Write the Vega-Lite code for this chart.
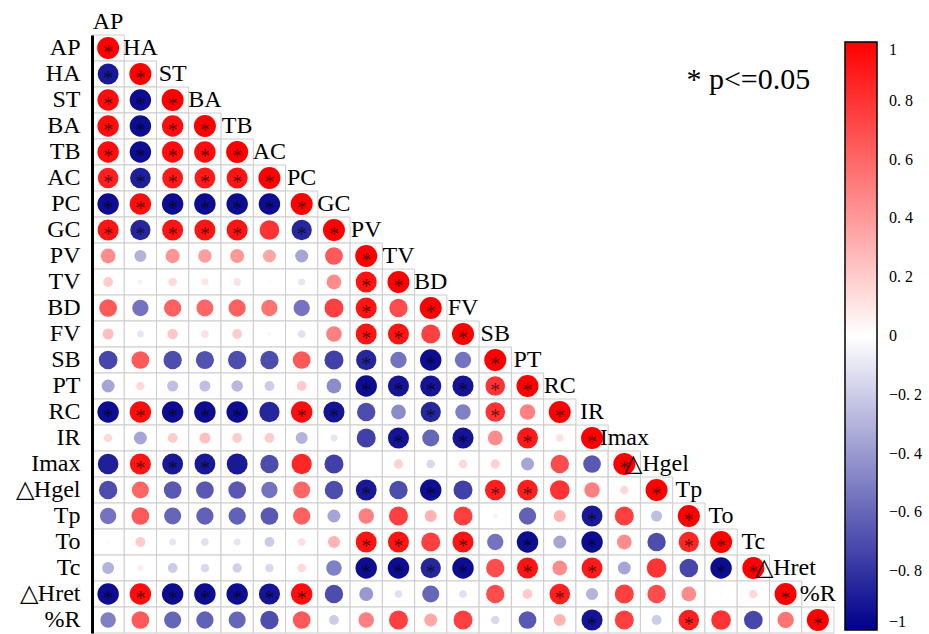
{
"$schema": "https://vega.github.io/schema/vega-lite/v6.json",
"width": 742, "height": 598,
"autosize": {"type": "none"},
"padding": {"left": 92, "top": 35, "right": 95, "bottom": 1},
"background": "white",
"config": {"view": {"stroke": null}, "font": "Liberation Serif", "legend": {"labelFont": "Liberation Serif", "labelFontSize": 16, "labelColor": "black"}},
"datasets": {
"names": [{"n":"AP"},{"n":"HA"},{"n":"ST"},{"n":"BA"},{"n":"TB"},{"n":"AC"},{"n":"PC"},{"n":"GC"},{"n":"PV"},{"n":"TV"},{"n":"BD"},{"n":"FV"},{"n":"SB"},{"n":"PT"},{"n":"RC"},{"n":"IR"},{"n":"Imax"},{"n":"△Hgel"},{"n":"Tp"},{"n":"To"},{"n":"Tc"},{"n":"△Hret"},{"n":"%R"}],
"note": [{"t":"* p<=0.05","x":"Tc","y":"HA"}],
"cells": [
{"a":"AP","b":"AP","r":1,"s":1},
{"a":"HA","b":"AP","r":-0.9,"s":1},{"a":"HA","b":"HA","r":1,"s":1},
{"a":"ST","b":"AP","r":0.95,"s":1},{"a":"ST","b":"HA","r":-0.95,"s":1},{"a":"ST","b":"ST","r":1,"s":1},
{"a":"BA","b":"AP","r":0.95,"s":1},{"a":"BA","b":"HA","r":-0.95,"s":1},{"a":"BA","b":"ST","r":0.95,"s":1},{"a":"BA","b":"BA","r":1,"s":1},
{"a":"TB","b":"AP","r":0.95,"s":1},{"a":"TB","b":"HA","r":-0.95,"s":1},{"a":"TB","b":"ST","r":0.95,"s":1},{"a":"TB","b":"BA","r":0.95,"s":1},{"a":"TB","b":"TB","r":1,"s":1},
{"a":"AC","b":"AP","r":0.88,"s":1},{"a":"AC","b":"HA","r":-0.88,"s":1},{"a":"AC","b":"ST","r":0.9,"s":1},{"a":"AC","b":"BA","r":0.9,"s":1},{"a":"AC","b":"TB","r":0.92,"s":1},{"a":"AC","b":"AC","r":1,"s":1},
{"a":"PC","b":"AP","r":-0.95,"s":1},{"a":"PC","b":"HA","r":0.95,"s":1},{"a":"PC","b":"ST","r":-0.95,"s":1},{"a":"PC","b":"BA","r":-0.95,"s":1},{"a":"PC","b":"TB","r":-0.95,"s":1},{"a":"PC","b":"AC","r":-0.95,"s":1},{"a":"PC","b":"PC","r":1,"s":1},
{"a":"GC","b":"AP","r":0.92,"s":1},{"a":"GC","b":"HA","r":-0.85,"s":1},{"a":"GC","b":"ST","r":0.92,"s":1},{"a":"GC","b":"BA","r":0.92,"s":1},{"a":"GC","b":"TB","r":0.92,"s":1},{"a":"GC","b":"AC","r":0.8,"s":0},{"a":"GC","b":"PC","r":-0.85,"s":1},{"a":"GC","b":"GC","r":1,"s":1},
{"a":"PV","b":"AP","r":0.45,"s":0},{"a":"PV","b":"HA","r":-0.3,"s":0},{"a":"PV","b":"ST","r":0.42,"s":0},{"a":"PV","b":"BA","r":0.38,"s":0},{"a":"PV","b":"TB","r":0.4,"s":0},{"a":"PV","b":"AC","r":0.35,"s":0},{"a":"PV","b":"PC","r":-0.35,"s":0},{"a":"PV","b":"GC","r":0.65,"s":0},{"a":"PV","b":"PV","r":1,"s":1},
{"a":"TV","b":"AP","r":0.2,"s":0},{"a":"TV","b":"HA","r":-0.05,"s":0},{"a":"TV","b":"ST","r":0.15,"s":0},{"a":"TV","b":"BA","r":0.1,"s":0},{"a":"TV","b":"TB","r":0.12,"s":0},{"a":"TV","b":"AC","r":0.02,"s":0},{"a":"TV","b":"PC","r":-0.1,"s":0},{"a":"TV","b":"GC","r":0.45,"s":0},{"a":"TV","b":"PV","r":0.92,"s":1},{"a":"TV","b":"TV","r":1,"s":1},
{"a":"BD","b":"AP","r":0.65,"s":0},{"a":"BD","b":"HA","r":-0.55,"s":0},{"a":"BD","b":"ST","r":0.62,"s":0},{"a":"BD","b":"BA","r":0.6,"s":0},{"a":"BD","b":"TB","r":0.62,"s":0},{"a":"BD","b":"AC","r":0.55,"s":0},{"a":"BD","b":"PC","r":-0.55,"s":0},{"a":"BD","b":"GC","r":0.75,"s":0},{"a":"BD","b":"PV","r":0.92,"s":1},{"a":"BD","b":"TV","r":0.7,"s":0},{"a":"BD","b":"BD","r":1,"s":1},
{"a":"FV","b":"AP","r":0.25,"s":0},{"a":"FV","b":"HA","r":-0.1,"s":0},{"a":"FV","b":"ST","r":0.22,"s":0},{"a":"FV","b":"BA","r":0.12,"s":0},{"a":"FV","b":"TB","r":0.2,"s":0},{"a":"FV","b":"AC","r":0.03,"s":0},{"a":"FV","b":"PC","r":-0.12,"s":0},{"a":"FV","b":"GC","r":0.5,"s":0},{"a":"FV","b":"PV","r":0.92,"s":1},{"a":"FV","b":"TV","r":0.92,"s":1},{"a":"FV","b":"BD","r":0.75,"s":0},{"a":"FV","b":"FV","r":1,"s":1},
{"a":"SB","b":"AP","r":-0.72,"s":0},{"a":"SB","b":"HA","r":0.65,"s":0},{"a":"SB","b":"ST","r":-0.7,"s":0},{"a":"SB","b":"BA","r":-0.68,"s":0},{"a":"SB","b":"TB","r":-0.7,"s":0},{"a":"SB","b":"AC","r":-0.7,"s":0},{"a":"SB","b":"PC","r":0.65,"s":0},{"a":"SB","b":"GC","r":-0.75,"s":0},{"a":"SB","b":"PV","r":-0.85,"s":1},{"a":"SB","b":"TV","r":-0.55,"s":0},{"a":"SB","b":"BD","r":-0.95,"s":1},{"a":"SB","b":"FV","r":-0.55,"s":0},{"a":"SB","b":"SB","r":1,"s":1},
{"a":"PT","b":"AP","r":-0.35,"s":0},{"a":"PT","b":"HA","r":0.15,"s":0},{"a":"PT","b":"ST","r":-0.25,"s":0},{"a":"PT","b":"BA","r":-0.25,"s":0},{"a":"PT","b":"TB","r":-0.28,"s":0},{"a":"PT","b":"AC","r":-0.2,"s":0},{"a":"PT","b":"PC","r":0.2,"s":0},{"a":"PT","b":"GC","r":-0.45,"s":0},{"a":"PT","b":"PV","r":-0.95,"s":1},{"a":"PT","b":"TV","r":-0.92,"s":1},{"a":"PT","b":"BD","r":-0.92,"s":1},{"a":"PT","b":"FV","r":-0.92,"s":1},{"a":"PT","b":"SB","r":0.8,"s":1},{"a":"PT","b":"PT","r":1,"s":1},
{"a":"RC","b":"AP","r":-0.95,"s":1},{"a":"RC","b":"HA","r":0.95,"s":1},{"a":"RC","b":"ST","r":-0.95,"s":1},{"a":"RC","b":"BA","r":-0.95,"s":1},{"a":"RC","b":"TB","r":-0.95,"s":1},{"a":"RC","b":"AC","r":-0.85,"s":0},{"a":"RC","b":"PC","r":0.95,"s":1},{"a":"RC","b":"GC","r":-0.92,"s":1},{"a":"RC","b":"PV","r":-0.7,"s":0},{"a":"RC","b":"TV","r":-0.45,"s":0},{"a":"RC","b":"BD","r":-0.85,"s":1},{"a":"RC","b":"FV","r":-0.5,"s":0},{"a":"RC","b":"SB","r":0.8,"s":1},{"a":"RC","b":"PT","r":0.5,"s":0},{"a":"RC","b":"RC","r":1,"s":1},
{"a":"IR","b":"AP","r":0.15,"s":0},{"a":"IR","b":"HA","r":-0.35,"s":0},{"a":"IR","b":"ST","r":0.2,"s":0},{"a":"IR","b":"BA","r":0.25,"s":0},{"a":"IR","b":"TB","r":0.2,"s":0},{"a":"IR","b":"AC","r":0.2,"s":0},{"a":"IR","b":"PC","r":-0.3,"s":0},{"a":"IR","b":"GC","r":-0.1,"s":0},{"a":"IR","b":"PV","r":-0.75,"s":0},{"a":"IR","b":"TV","r":-0.92,"s":1},{"a":"IR","b":"BD","r":-0.6,"s":0},{"a":"IR","b":"FV","r":-0.92,"s":1},{"a":"IR","b":"SB","r":0.45,"s":0},{"a":"IR","b":"PT","r":0.9,"s":1},{"a":"IR","b":"RC","r":0.12,"s":0},{"a":"IR","b":"IR","r":1,"s":1},
{"a":"Imax","b":"AP","r":-0.88,"s":0},{"a":"Imax","b":"HA","r":0.92,"s":1},{"a":"Imax","b":"ST","r":-0.9,"s":1},{"a":"Imax","b":"BA","r":-0.9,"s":1},{"a":"Imax","b":"TB","r":-0.9,"s":0},{"a":"Imax","b":"AC","r":-0.7,"s":0},{"a":"Imax","b":"PC","r":0.85,"s":0},{"a":"Imax","b":"GC","r":-0.75,"s":0},{"a":"Imax","b":"PV","r":-0.02,"s":0},{"a":"Imax","b":"TV","r":0.18,"s":0},{"a":"Imax","b":"BD","r":-0.15,"s":0},{"a":"Imax","b":"FV","r":0.15,"s":0},{"a":"Imax","b":"SB","r":0.18,"s":0},{"a":"Imax","b":"PT","r":-0.35,"s":0},{"a":"Imax","b":"RC","r":0.7,"s":0},{"a":"Imax","b":"IR","r":-0.65,"s":0},{"a":"Imax","b":"Imax","r":1,"s":1},
{"a":"△Hgel","b":"AP","r":-0.7,"s":0},{"a":"△Hgel","b":"HA","r":0.6,"s":0},{"a":"△Hgel","b":"ST","r":-0.65,"s":0},{"a":"△Hgel","b":"BA","r":-0.65,"s":0},{"a":"△Hgel","b":"TB","r":-0.65,"s":0},{"a":"△Hgel","b":"AC","r":-0.55,"s":0},{"a":"△Hgel","b":"PC","r":0.6,"s":0},{"a":"△Hgel","b":"GC","r":-0.7,"s":0},{"a":"△Hgel","b":"PV","r":-0.9,"s":1},{"a":"△Hgel","b":"TV","r":-0.7,"s":0},{"a":"△Hgel","b":"BD","r":-0.95,"s":1},{"a":"△Hgel","b":"FV","r":-0.75,"s":0},{"a":"△Hgel","b":"SB","r":0.88,"s":1},{"a":"△Hgel","b":"PT","r":0.88,"s":1},{"a":"△Hgel","b":"RC","r":0.8,"s":0},{"a":"△Hgel","b":"IR","r":0.5,"s":0},{"a":"△Hgel","b":"Imax","r":0.15,"s":0},{"a":"△Hgel","b":"△Hgel","r":1,"s":1},
{"a":"Tp","b":"AP","r":-0.55,"s":0},{"a":"Tp","b":"HA","r":0.65,"s":0},{"a":"Tp","b":"ST","r":-0.6,"s":0},{"a":"Tp","b":"BA","r":-0.62,"s":0},{"a":"Tp","b":"TB","r":-0.62,"s":0},{"a":"Tp","b":"AC","r":-0.65,"s":0},{"a":"Tp","b":"PC","r":0.62,"s":0},{"a":"Tp","b":"GC","r":-0.35,"s":0},{"a":"Tp","b":"PV","r":0.5,"s":0},{"a":"Tp","b":"TV","r":0.75,"s":0},{"a":"Tp","b":"BD","r":0.3,"s":0},{"a":"Tp","b":"FV","r":0.75,"s":0},{"a":"Tp","b":"SB","r":-0.05,"s":0},{"a":"Tp","b":"PT","r":-0.62,"s":0},{"a":"Tp","b":"RC","r":0.3,"s":0},{"a":"Tp","b":"IR","r":-0.9,"s":1},{"a":"Tp","b":"Imax","r":0.75,"s":0},{"a":"Tp","b":"△Hgel","r":-0.25,"s":0},{"a":"Tp","b":"Tp","r":1,"s":1},
{"a":"To","b":"AP","r":-0.02,"s":0},{"a":"To","b":"HA","r":0.2,"s":0},{"a":"To","b":"ST","r":-0.1,"s":0},{"a":"To","b":"BA","r":-0.12,"s":0},{"a":"To","b":"TB","r":-0.1,"s":0},{"a":"To","b":"AC","r":-0.2,"s":0},{"a":"To","b":"PC","r":0.12,"s":0},{"a":"To","b":"GC","r":0.3,"s":0},{"a":"To","b":"PV","r":0.92,"s":1},{"a":"To","b":"TV","r":0.92,"s":1},{"a":"To","b":"BD","r":0.75,"s":0},{"a":"To","b":"FV","r":0.92,"s":1},{"a":"To","b":"SB","r":-0.55,"s":0},{"a":"To","b":"PT","r":-0.95,"s":1},{"a":"To","b":"RC","r":-0.35,"s":0},{"a":"To","b":"IR","r":-0.95,"s":1},{"a":"To","b":"Imax","r":0.45,"s":0},{"a":"To","b":"△Hgel","r":-0.7,"s":0},{"a":"To","b":"Tp","r":0.85,"s":1},{"a":"To","b":"To","r":1,"s":1},
{"a":"Tc","b":"AP","r":-0.3,"s":0},{"a":"Tc","b":"HA","r":0.08,"s":0},{"a":"Tc","b":"ST","r":-0.2,"s":0},{"a":"Tc","b":"BA","r":-0.15,"s":0},{"a":"Tc","b":"TB","r":-0.18,"s":0},{"a":"Tc","b":"AC","r":-0.15,"s":0},{"a":"Tc","b":"PC","r":0.15,"s":0},{"a":"Tc","b":"GC","r":-0.5,"s":0},{"a":"Tc","b":"PV","r":-0.95,"s":1},{"a":"Tc","b":"TV","r":-0.95,"s":1},{"a":"Tc","b":"BD","r":-0.85,"s":1},{"a":"Tc","b":"FV","r":-0.95,"s":1},{"a":"Tc","b":"SB","r":0.7,"s":0},{"a":"Tc","b":"PT","r":0.92,"s":1},{"a":"Tc","b":"RC","r":0.45,"s":0},{"a":"Tc","b":"IR","r":0.9,"s":1},{"a":"Tc","b":"Imax","r":-0.35,"s":0},{"a":"Tc","b":"△Hgel","r":0.8,"s":0},{"a":"Tc","b":"Tp","r":-0.72,"s":0},{"a":"Tc","b":"To","r":-0.95,"s":1},{"a":"Tc","b":"Tc","r":1,"s":1},
{"a":"△Hret","b":"AP","r":-0.95,"s":1},{"a":"△Hret","b":"HA","r":0.95,"s":1},{"a":"△Hret","b":"ST","r":-0.95,"s":1},{"a":"△Hret","b":"BA","r":-0.95,"s":1},{"a":"△Hret","b":"TB","r":-0.95,"s":1},{"a":"△Hret","b":"AC","r":-0.92,"s":1},{"a":"△Hret","b":"PC","r":0.95,"s":1},{"a":"△Hret","b":"GC","r":-0.7,"s":0},{"a":"△Hret","b":"PV","r":-0.4,"s":0},{"a":"△Hret","b":"TV","r":-0.12,"s":0},{"a":"△Hret","b":"BD","r":-0.6,"s":0},{"a":"△Hret","b":"FV","r":-0.12,"s":0},{"a":"△Hret","b":"SB","r":0.7,"s":0},{"a":"△Hret","b":"PT","r":0.2,"s":0},{"a":"△Hret","b":"RC","r":0.88,"s":1},{"a":"△Hret","b":"IR","r":-0.3,"s":0},{"a":"△Hret","b":"Imax","r":0.75,"s":0},{"a":"△Hret","b":"△Hgel","r":0.7,"s":0},{"a":"△Hret","b":"Tp","r":0.45,"s":0},{"a":"△Hret","b":"To","r":0.02,"s":0},{"a":"△Hret","b":"Tc","r":0.15,"s":0},{"a":"△Hret","b":"△Hret","r":1,"s":1},
{"a":"%R","b":"AP","r":-0.5,"s":0},{"a":"%R","b":"HA","r":0.65,"s":0},{"a":"%R","b":"ST","r":-0.6,"s":0},{"a":"%R","b":"BA","r":-0.62,"s":0},{"a":"%R","b":"TB","r":-0.6,"s":0},{"a":"%R","b":"AC","r":-0.7,"s":0},{"a":"%R","b":"PC","r":0.65,"s":0},{"a":"%R","b":"GC","r":-0.2,"s":0},{"a":"%R","b":"PV","r":0.5,"s":0},{"a":"%R","b":"TV","r":0.75,"s":0},{"a":"%R","b":"BD","r":0.35,"s":0},{"a":"%R","b":"FV","r":0.75,"s":0},{"a":"%R","b":"SB","r":-0.15,"s":0},{"a":"%R","b":"PT","r":-0.65,"s":0},{"a":"%R","b":"RC","r":0.3,"s":0},{"a":"%R","b":"IR","r":-0.92,"s":1},{"a":"%R","b":"Imax","r":0.75,"s":0},{"a":"%R","b":"△Hgel","r":-0.2,"s":0},{"a":"%R","b":"Tp","r":0.88,"s":1},{"a":"%R","b":"To","r":0.8,"s":0},{"a":"%R","b":"Tc","r":-0.72,"s":0},{"a":"%R","b":"△Hret","r":0.55,"s":0},{"a":"%R","b":"%R","r":1,"s":1}
]
},
"layer": [
{
"data": {"name": "cells"},
"mark": {"type": "rect", "fill": "white", "stroke": "#cccccc", "strokeWidth": 1},
"encoding": {
"x": {"field": "b", "type": "nominal", "scale": {"domain": ["AP","HA","ST","BA","TB","AC","PC","GC","PV","TV","BD","FV","SB","PT","RC","IR","Imax","△Hgel","Tp","To","Tc","△Hret","%R"], "paddingInner": 0, "paddingOuter": 0}, "axis": null},
"y": {"field": "a", "type": "nominal", "scale": {"domain": ["AP","HA","ST","BA","TB","AC","PC","GC","PV","TV","BD","FV","SB","PT","RC","IR","Imax","△Hgel","Tp","To","Tc","△Hret","%R"], "paddingInner": 0, "paddingOuter": 0},
"axis": {"title": null, "ticks": false, "grid": false, "domain": true, "domainColor": "black", "domainWidth": 3, "labelFont": "Liberation Serif", "labelFontSize": 24, "labelColor": "black", "labelPadding": 12}}
}
},
{
"data": {"name": "cells"},
"mark": {"type": "circle", "opacity": 1, "strokeWidth": 0},
"encoding": {
"x": {"field": "b", "type": "nominal"},
"y": {"field": "a", "type": "nominal"},
"size": {"field": "r", "type": "quantitative", "scale": {"domain": [-1, 0, 1], "range": [484, 0, 484]}, "legend": null},
"color": {"field": "r", "type": "quantitative", "scale": {"domain": [-1, 1], "domainMid": 0, "range": ["#00008B", "#FFFFFF", "#FF0000"], "interpolate": "rgb"},
"legend": {"type": "gradient", "orient": "none", "legendX": 753, "legendY": 7, "direction": "vertical", "title": null, "gradientLength": 588, "gradientThickness": 32, "gradientStrokeColor": "black", "gradientStrokeWidth": 1.5, "values": [1, 0.8, 0.6, 0.4, 0.2, 0, -0.2, -0.4, -0.6, -0.8, -1], "labelFont": "Liberation Serif", "labelFontSize": 16, "labelColor": "black", "labelOffset": 12, "labelOverlap": false, "labelExpr": "datum.value == 1 ? '1' : datum.value == -1 ? '−1' : datum.value == 0 ? '0' : (datum.value < 0 ? '−0. ' : '0. ') + format(abs(datum.value) * 10, '.0f')"}}
}
},
{
"data": {"name": "cells"},
"transform": [{"filter": "datum.s == 1"}],
"mark": {"type": "text", "text": "*", "fontSize": 20, "color": "black", "opacity": 0.6, "dy": 5, "font": "Liberation Serif"},
"encoding": {
"x": {"field": "b", "type": "nominal"},
"y": {"field": "a", "type": "nominal"}
}
},
{
"data": {"name": "names"},
"mark": {"type": "text", "fontSize": 24, "dy": -26, "align": "center", "font": "Liberation Serif", "color": "black"},
"encoding": {
"x": {"field": "n", "type": "nominal"},
"y": {"field": "n", "type": "nominal"},
"text": {"field": "n"}
}
},
{
"data": {"name": "note"},
"mark": {"type": "text", "fontSize": 30, "dx": -5, "dy": 6, "align": "center", "font": "Liberation Serif", "color": "black"},
"encoding": {
"x": {"field": "x", "type": "nominal"},
"y": {"field": "y", "type": "nominal"},
"text": {"field": "t"}
}
}
]
}
